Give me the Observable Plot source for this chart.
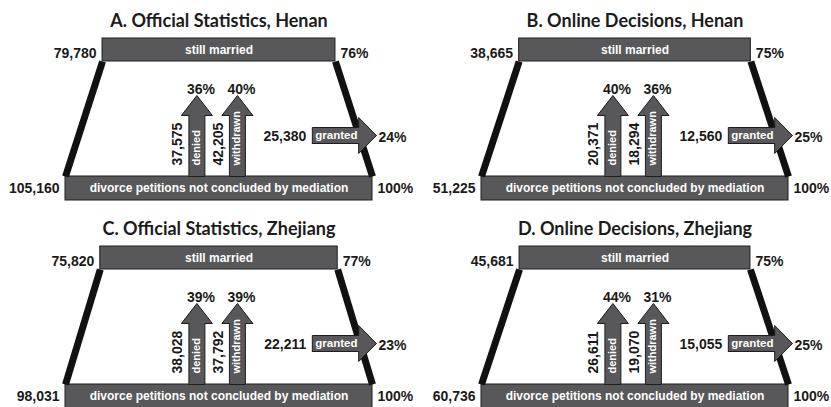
<!DOCTYPE html>
<html><head><meta charset="utf-8">
<script src="https://cdn.jsdelivr.net/npm/d3@7"></script>
<script src="https://cdn.jsdelivr.net/npm/@observablehq/plot@0.6"></script>
<style>
body{margin:0;background:#fff;}
#wrap{position:relative;width:831px;height:407px;overflow:hidden;background:#fff;}
.panel{position:absolute;}
</style></head><body><div id="wrap"></div>
<script>
// ---- data ----
const panelLetters = ["A", "B", "C", "D"];
const sources = ["Official Statistics", "Online Decisions", "Official Statistics", "Online Decisions"];
const provinces = ["Henan", "Henan", "Zhejiang", "Zhejiang"];
const totals = [105160, 51225, 98031, 60736];
const married = [79780, 38665, 75820, 45681];
const denied = [37575, 20371, 38028, 26611];
const withdrawn = [42205, 18294, 37792, 19070];
const granted = [25380, 12560, 22211, 15055];
const marriedPct = ["76%", "75%", "77%", "75%"];
const deniedPct = ["36%", "40%", "39%", "44%"];
const withdrawnPct = ["40%", "36%", "39%", "31%"];
const grantedPct = ["24%", "25%", "23%", "25%"];
const totalPct = "100%";
const topLabel = "still married";
const bottomLabel = "divorce petitions not concluded by mediation";
const arrowLabels = ["denied", "withdrawn", "granted"];

// ---- layout (schematic, in scale units) ----
const W = 415, H = 200;
const ML = 65, MR = 43, MT = 61, MB = 24;
const PXX = 1 / (W - ML - MR);   // one pixel in x units
const PXY = 1 / (H - MT - MB);   // one pixel in y units
const BAR_H = 23 * PXY;
const UP = {shaft: 8 * PXX, head: 15.5 * PXX, headLen: 20 * PXY, tip: 81 * PXY};
const DENIED_X = -0.072, WITHDRAWN_X = 0.060;
const G = {x0: 0.304, xb: 0.455, xt: 0.513, y: 41 * PXY, shaft: 8 * PXY, head: 18 * PXY};
const positions = [{left: 0, top: 0}, {left: 416, top: 0}, {left: 0, top: 208}, {left: 416, top: 208}];

const FILL = "#58585a", EDGE = "#1e1e1e", INK = "#1a1a1a";
const FONT = "'Liberation Sans', Arial, sans-serif";
const fmt = d3.format(",");

function upArrow(id, cx) {
  const s = UP.shaft, h = UP.head, yb = UP.tip - UP.headLen;
  return [[cx - s, 0], [cx - s, yb], [cx - h, yb], [cx, UP.tip], [cx + h, yb], [cx + s, yb], [cx + s, 0], [cx - s, 0]]
    .map(([x, y]) => ({id, x, y}));
}
function rightArrow(id) {
  const {x0, xb, xt, y, shaft: s, head: h} = G;
  return [[x0, y - s], [xb, y - s], [xb, y - h], [xt, y], [xb, y + h], [xb, y + s], [x0, y + s], [x0, y - s]]
    .map(([x, yy]) => ({id, x, y: yy}));
}

function panel(i) {
  const T = totals[i];
  const half = married[i] / T / 2;
  const bars = [
    {x1: -half, x2: half, y1: 1, y2: 1 + BAR_H, label: topLabel},
    {x1: -0.5, x2: 0.5, y1: -BAR_H - PXY, y2: 0, label: bottomLabel}
  ];
  const sides = [
    {x1: -half, y1: 1, x2: -0.5, y2: 0},
    {x1: half, y1: 1, x2: 0.5, y2: 0}
  ];
  const arrows = [...upArrow("denied", DENIED_X), ...upArrow("withdrawn", WITHDRAWN_X), ...rightArrow("granted")];
  const midTop = 1 + BAR_H / 2, midBot = -BAR_H / 2 - PXY / 2;
  const rowStart = 11 * PXY;
  const bold14 = {fontSize: 14, fontWeight: "bold", fill: INK};
  const white = {fontWeight: "bold", fill: "white"};
  return Plot.plot({
    width: W, height: H,
    marginLeft: ML, marginRight: MR, marginTop: MT, marginBottom: MB,
    x: {domain: [-0.5, 0.5], axis: null},
    y: {domain: [0, 1], axis: null},
    style: {background: "transparent", overflow: "visible", fontFamily: FONT},
    marks: [
      Plot.rectX(bars, {x1: "x1", x2: "x2", y1: "y1", y2: "y2", fill: FILL, stroke: EDGE, strokeWidth: 1}),
      Plot.text(bars, {x: d => (d.x1 + d.x2) / 2, y: d => (d.y1 + d.y2) / 2, text: "label", fontSize: 12, ...white}),
      Plot.link(sides, {x1: "x1", y1: "y1", x2: "x2", y2: "y2", stroke: "#111", strokeWidth: 7, strokeLinecap: "butt"}),
      Plot.line(arrows, {x: "x", y: "y", z: "id", fill: FILL, stroke: EDGE, strokeWidth: 1, strokeLinejoin: "miter", curve: "linear"}),
      // title
      Plot.text([`${panelLetters[i]}. ${sources[i]}, ${provinces[i]}`], {x: 0, y: 1 + 155.5 * PXY - 1, text: d => d, fontSize: 18, fontWeight: "bold", fontFamily: "Lato, 'Open Sans', sans-serif", fill: "#1c1c1c"}),
      // top bar numbers
      Plot.text([fmt(married[i])], {x: -half, y: midTop, text: d => d, textAnchor: "end", dx: -6, dy: 3.5, ...bold14}),
      Plot.text([marriedPct[i]], {x: half, y: midTop, text: d => d, textAnchor: "start", dx: 5, dy: 3.5, ...bold14}),
      // bottom bar numbers
      Plot.text([fmt(T)], {x: -0.5, y: midBot, text: d => d, textAnchor: "end", dx: -6, dy: 0.5, ...bold14}),
      Plot.text([totalPct], {x: 0.5, y: midBot, text: d => d, textAnchor: "start", dx: 5, dy: 0.5, ...bold14}),
      // up-arrow counts (rotated)
      Plot.text([{x: DENIED_X, t: fmt(denied[i])}, {x: WITHDRAWN_X, t: fmt(withdrawn[i])}],
        {x: "x", y: rowStart, text: "t", rotate: -90, textAnchor: "start", dx: -19, ...bold14}),
      Plot.text([{x: DENIED_X, t: arrowLabels[0]}, {x: WITHDRAWN_X, t: arrowLabels[1]}],
        {x: "x", y: rowStart, text: "t", rotate: -90, textAnchor: "start", dx: -0.5, fontSize: 11, ...white}),
      // up-arrow percentages
      Plot.text([{x: DENIED_X, t: deniedPct[i]}, {x: WITHDRAWN_X, t: withdrawnPct[i]}],
        {x: "x", y: 87 * PXY, text: "t", dx: 4, ...bold14}),
      // granted
      Plot.text([fmt(granted[i])], {x: G.x0, y: G.y, text: d => d, textAnchor: "end", dx: -6, dy: 1, ...bold14}),
      Plot.text([arrowLabels[2]], {x: G.x0, y: G.y, text: d => d, textAnchor: "start", dx: 3, dy: 0, fontSize: 11.5, ...white}),
      Plot.text([grantedPct[i]], {x: G.xt, y: G.y, text: d => d, textAnchor: "start", dx: 2, dy: 2, ...bold14})
    ]
  });
}

const wrap = document.getElementById("wrap");
totals.forEach((_, i) => {
  const div = document.createElement("div");
  div.className = "panel";
  div.style.left = positions[i].left + "px";
  div.style.top = positions[i].top + "px";
  div.appendChild(panel(i));
  wrap.appendChild(div);
});
</script>
</body></html>
